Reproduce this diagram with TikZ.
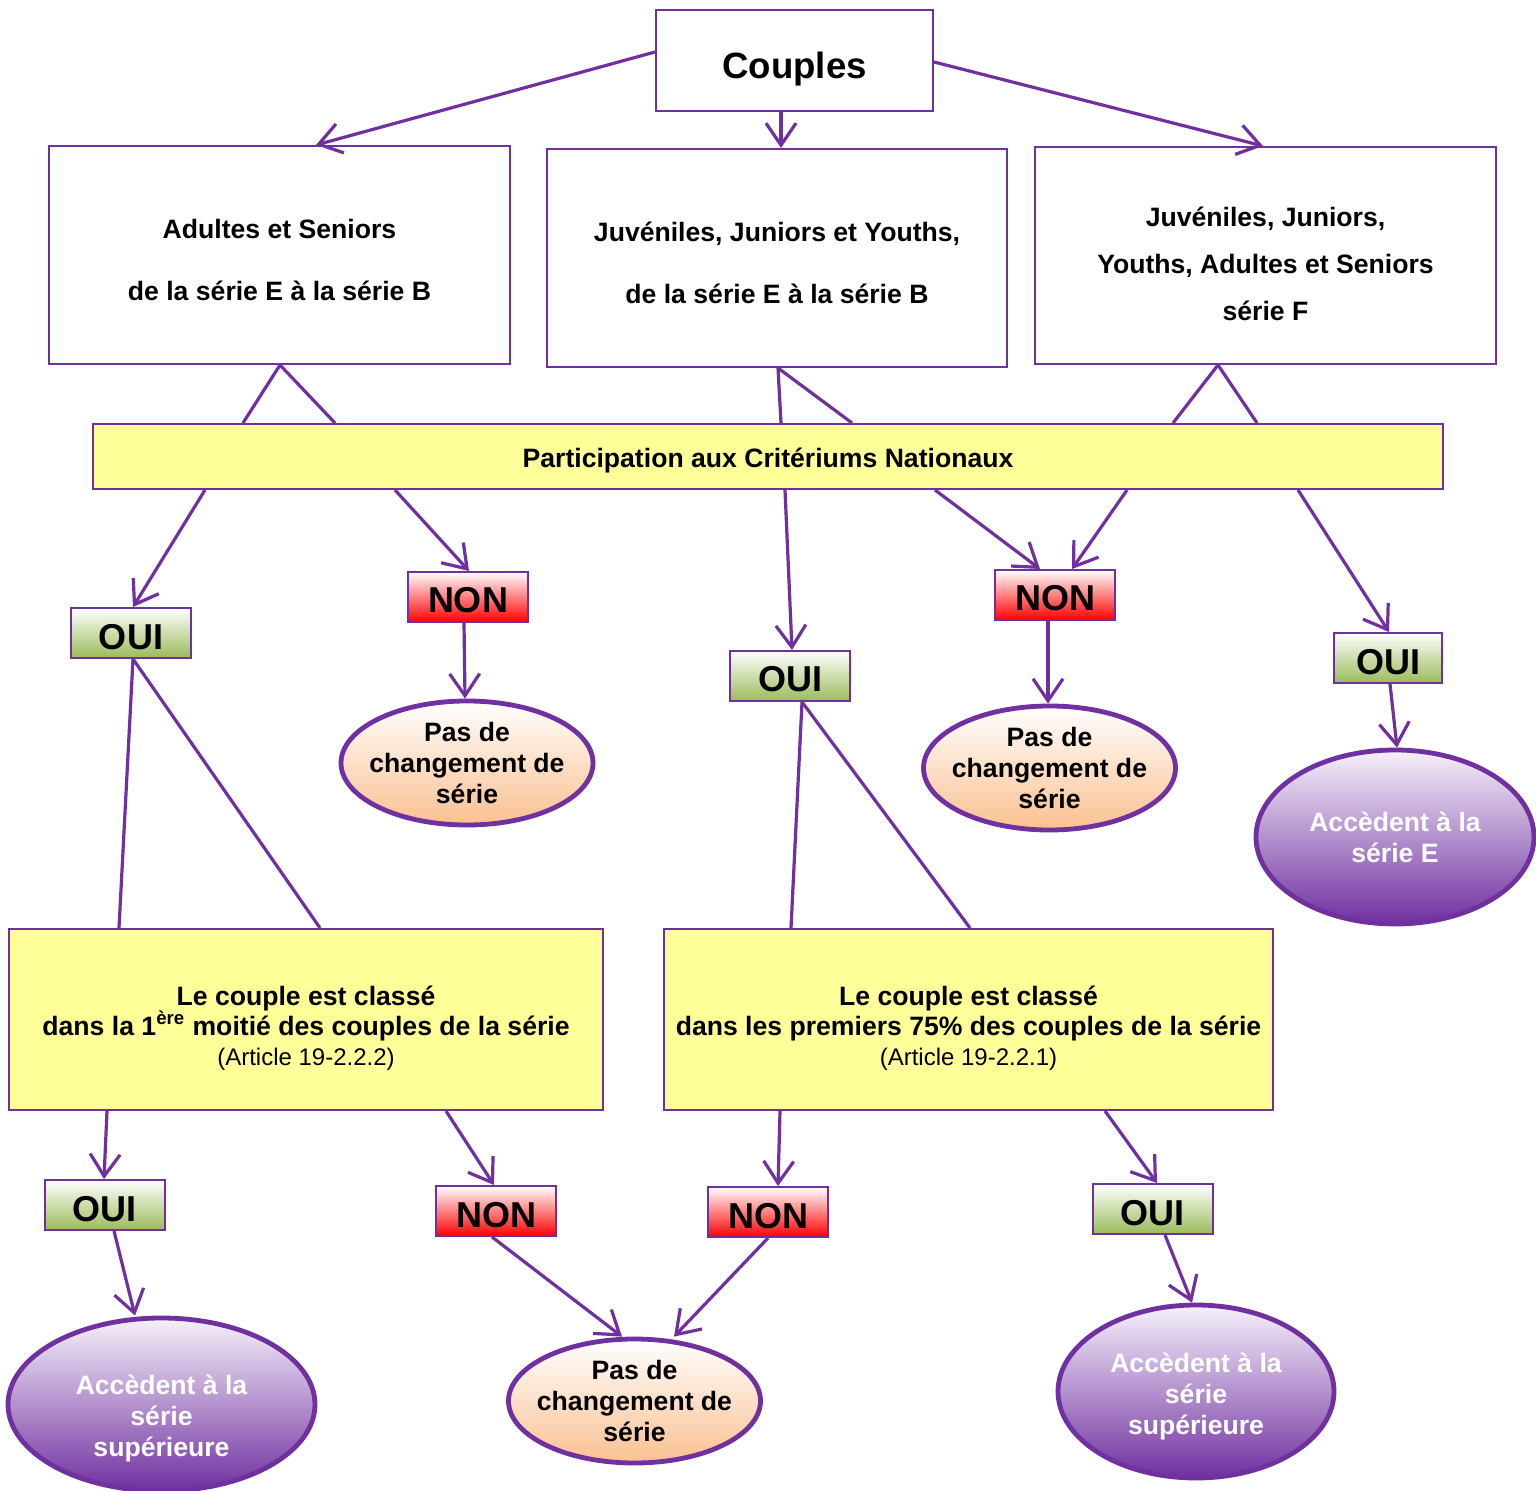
\documentclass[tikz,border=0pt]{standalone}
\usepackage{fontspec}
\setmainfont{Liberation Sans}
\usetikzlibrary{arrows.meta,shapes.geometric}
\definecolor{pur}{HTML}{7030A0}
\definecolor{yel}{HTML}{FFFF99}
\definecolor{grn}{HTML}{9BBB59}
\definecolor{peach}{HTML}{FAC090}
\definecolor{lav}{HTML}{F6F1FA}
\newcommand\tstrut[1]{\rule{0pt}{#1}}
\begin{document}
\begin{tikzpicture}[x=0.5pt,y=-0.5pt,
  box/.style={draw=pur,line width=1pt,fill=white,inner sep=0pt,align=center,
    font=\bfseries\fontsize{13.3}{31}\selectfont},
  ybox/.style={box,fill=yel},
  yn/.style={draw=pur,line width=1pt,inner sep=0pt,minimum width=60pt,minimum height=25pt,
    font=\bfseries\fontsize{18}{20}\selectfont},
  oui/.style={yn,top color=white,bottom color=grn},
  non/.style={yn,top color=white,bottom color=red},
  pas/.style={ellipse,draw=pur,line width=2.4pt,inner xsep=-9pt,inner ysep=-4pt,minimum width=126pt,minimum height=62pt,
    top color=white,bottom color=peach,align=center,font=\bfseries\fontsize{13.3}{15.5}\selectfont},
  acc/.style={ellipse,draw=pur,line width=2.4pt,inner sep=0pt,top color=lav,bottom color=pur,
    text=white,align=center,font=\bfseries\fontsize{13.3}{15.5}\selectfont},
  arr/.style={draw=pur,line width=1.6pt,-{Straight Barb[length=11pt,width=15pt]}},
  ln/.style={draw=pur,line width=1.6pt}
]
\fill[white] (0,0) rectangle (1536,1491);
\useasboundingbox (0,0) rectangle (1536,1491);

% top level
\node[box,font=\bfseries\fontsize{18.3}{22}\selectfont,minimum width=138.5pt,minimum height=50.5pt] (couples) at (794.5,60.5) {\tstrut{21.5pt}Couples};
\node[box,minimum width=230.5pt,minimum height=109pt] (boxA) at (279.5,255) {\tstrut{14.7pt}Adultes et Seniors\\de la série E à la série B};
\node[box,minimum width=230pt,minimum height=109pt] (boxB) at (777,258) {\tstrut{15pt}Juvéniles, Juniors et Youths,\\de la série E à la série B};
\node[box,font=\bfseries\fontsize{13.3}{23.5}\selectfont,minimum width=230.5pt,minimum height=108.5pt] (boxC) at (1265.5,255.5) {\tstrut{18pt}Juvéniles, Juniors,\\Youths, Adultes et Seniors\\série F};
\node[ybox,minimum width=675pt,minimum height=32.5pt] (part) at (768,456.5) {\tstrut{14pt}Participation aux Critériums Nationaux};

% yes / no level 1
\node[oui] (oui1) at (131,633) {\tstrut{17pt}OUI};
\node[non] (non1) at (468,597) {\tstrut{16pt}NON};
\node[oui] (oui2) at (790,676) {\tstrut{16pt}OUI};
\node[non] (non2) at (1055,595) {\tstrut{16pt}NON};
\node[oui,minimum width=54pt] (oui3) at (1388,658) {\tstrut{17pt}OUI};

\node[pas] (p1) at (467,763) {Pas de\\changement de\\série};
\node[pas] (p2) at (1049.5,768) {Pas de\\changement de\\série};
\node[acc,minimum width=139pt,minimum height=87pt] (a1) at (1395,837) {Accèdent à la\\série E};

% classification
\node[ybox,font=\bfseries\fontsize{13.3}{15}\selectfont,minimum width=297pt,minimum height=90.5pt] (clL) at (306,1019.5)
  {\tstrut{18pt}Le couple est classé\\dans la 1\textsuperscript{ère} moitié des couples de la série\\{\mdseries\fontsize{12}{15}\selectfont(Article 19-2.2.2)}};
\node[ybox,font=\bfseries\fontsize{13.3}{15}\selectfont,minimum width=304.5pt,minimum height=90.5pt] (clR) at (968.5,1019.5)
  {\tstrut{18pt}Le couple est classé\\dans les premiers 75\% des couples de la série\\{\mdseries\fontsize{12}{15}\selectfont(Article 19-2.2.1)}};

% yes / no level 2
\node[oui] (oui4) at (104.5,1205) {\tstrut{17pt}OUI};
\node[non] (non3) at (496,1211) {\tstrut{17pt}NON};
\node[non] (non4) at (768,1212) {\tstrut{17pt}NON};
\node[oui] (oui5) at (1152.5,1209) {\tstrut{17pt}OUI};

\node[acc,minimum width=153.5pt,minimum height=86.5pt] (a2) at (161.5,1404.5) {\tstrut{24pt}Accèdent à la\\série\\supérieure};
\node[pas] (p3) at (634.5,1401) {Pas de\\changement de\\série};
\node[acc,minimum width=138pt,minimum height=86.5pt] (a3) at (1196,1391.5) {\tstrut{15pt}Accèdent à la\\série\\supérieure};

% connectors
\draw[arr] (couples.west |- 0,52) -- (boxA.north -| 316,0);
\draw[arr] (couples.south -| 781,0) -- (boxB.north -| 781,0);
\draw[arr] (couples.east |- 0,62) -- (boxC.north -| 1263,0);

\draw[ln] (boxA.south -| 280,0) -- (part.north -| 243,0);
\draw[ln] (boxA.south -| 280,0) -- (part.north -| 335,0);
\draw[ln] (boxB.south -| 778,0) -- (part.north -| 781,0);
\draw[ln] (boxB.south -| 778,0) -- (part.north -| 852,0);
\draw[ln] (boxC.south -| 1218,0) -- (part.north -| 1173,0);
\draw[ln] (boxC.south -| 1218,0) -- (part.north -| 1257,0);

\draw[arr] (part.south -| 205,0) -- (oui1.north -| 133,0);
\draw[arr] (part.south -| 395,0) -- (non1.north -| 469,0);
\draw[arr] (part.south -| 785,0) -- (oui2.north -| 792,0);
\draw[arr] (part.south -| 935,0) -- (non2.north -| 1040,0);
\draw[arr] (part.south -| 1127,0) -- (non2.north -| 1072,0);
\draw[arr] (part.south -| 1298,0) -- (oui3.north -| 1389,0);

\draw[arr] (non1.south -| 464,0) -- (p1.north -| 465,0);
\draw[arr] (non2.south -| 1048,0) -- (p2.north -| 1048,0);
\draw[arr] (oui3.south -| 1390,0) -- (a1.north -| 1397,0);

\draw[ln] (oui1.south -| 133,0) -- (clL.north -| 119,0);
\draw[ln] (oui1.south -| 133,0) -- (clL.north -| 320,0);
\draw[ln] (oui2.south -| 802,0) -- (clR.north -| 791,0);
\draw[ln] (oui2.south -| 802,0) -- (clR.north -| 970,0);

\draw[arr] (clL.south -| 107,0) -- (oui4.north -| 104,0);
\draw[arr] (clL.south -| 446,0) -- (non3.north -| 494,0);
\draw[arr] (clR.south -| 780,0) -- (non4.north -| 778,0);
\draw[arr] (clR.south -| 1105,0) -- (oui5.north -| 1157,0);

\draw[arr] (oui4.south -| 114,0) -- (a2.north -| 135,0);
\draw[arr] (non3.south -| 492,0) -- (p3.north -| 622,0);
\draw[arr] (non4.south -| 768,0) -- (p3.north -| 674,0);
\draw[arr] (oui5.south -| 1165,0) -- (a3.north -| 1192,0);
\end{tikzpicture}
\end{document}
